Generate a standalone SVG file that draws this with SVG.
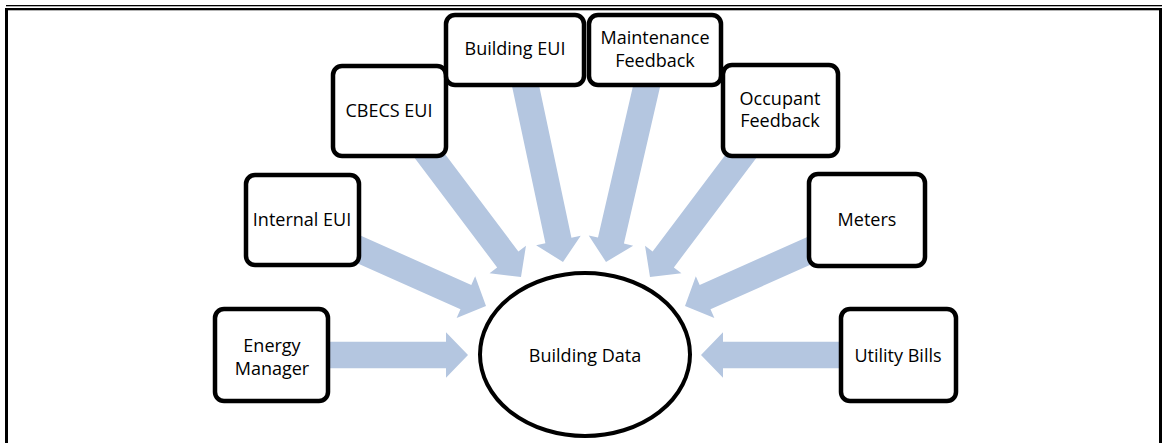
<svg xmlns="http://www.w3.org/2000/svg" xmlns:xlink="http://www.w3.org/1999/xlink" width="1162" height="443" viewBox="0 0 1162 443">
<defs>
<style>
.box{fill:#fff;stroke:#000;stroke-width:4.5}
.lbl{font-family:"Open Sans","Liberation Sans",sans-serif;font-size:18px;fill:#000;text-anchor:middle}
.arr{fill:#B4C6E0}
.frame{fill:#000}
</style>
<path id="blk" d="M-200,-13.3 H-22 V-22.8 L0,0 L-22,22.8 V13.3 H-200 Z"/>
</defs>
<rect width="1162" height="443" fill="#fff"/>
<g id="frame">
<rect class="frame" x="6" y="5" width="1156" height="1.3"/>
<rect class="frame" x="5" y="8" width="1157" height="2.3"/>
<rect class="frame" x="5" y="8" width="3" height="435"/>
<rect class="frame" x="1159" y="8" width="3" height="435"/>
</g>
<g id="connectors" class="arr">
<use xlink:href="#blk" transform="translate(468,355)"/>
<use xlink:href="#blk" transform="translate(701,355) rotate(180)"/>
<use xlink:href="#blk" transform="translate(486,306) rotate(24)"/>
<use xlink:href="#blk" transform="translate(685,306) rotate(156)"/>
<use xlink:href="#blk" transform="translate(521,277) rotate(53)"/>
<use xlink:href="#blk" transform="translate(650,277) rotate(127)"/>
<use xlink:href="#blk" transform="translate(563,262) rotate(78)"/>
<use xlink:href="#blk" transform="translate(606,262) rotate(103)"/>
</g>
<g id="building-data">
<ellipse cx="585" cy="354.5" rx="105" ry="81.5" fill="#fff" stroke="#000" stroke-width="4"/>
<text class="lbl" x="585" y="362">Building Data</text>
</g>
<g id="energy-manager">
<rect class="box" x="215" y="309" width="113" height="92" rx="9"/>
<text class="lbl" x="272" y="352">Energy</text>
<text class="lbl" x="272" y="375">Manager</text>
</g>
<g id="internal-eui">
<rect class="box" x="246" y="175" width="113" height="90" rx="9"/>
<text class="lbl" x="302" y="226">Internal EUI</text>
</g>
<g id="cbecs-eui">
<rect class="box" x="333" y="66" width="113" height="90" rx="9"/>
<text class="lbl" x="389" y="117">CBECS EUI</text>
</g>
<g id="building-eui">
<rect class="box" x="446" y="15" width="138" height="70" rx="9"/>
<text class="lbl" x="515" y="55">Building EUI</text>
</g>
<g id="maintenance-feedback">
<rect class="box" x="589" y="15" width="132" height="70" rx="9"/>
<text class="lbl" x="655" y="44">Maintenance</text>
<text class="lbl" x="655" y="67">Feedback</text>
</g>
<g id="occupant-feedback">
<rect class="box" x="723" y="65" width="115" height="91" rx="9"/>
<text class="lbl" x="780" y="105">Occupant</text>
<text class="lbl" x="780" y="127">Feedback</text>
</g>
<g id="meters">
<rect class="box" x="809" y="174" width="116" height="92" rx="9"/>
<text class="lbl" x="867" y="226">Meters</text>
</g>
<g id="utility-bills">
<rect class="box" x="841" y="309" width="115" height="92" rx="9"/>
<text class="lbl" x="898" y="362">Utility Bills</text>
</g>
</svg>
